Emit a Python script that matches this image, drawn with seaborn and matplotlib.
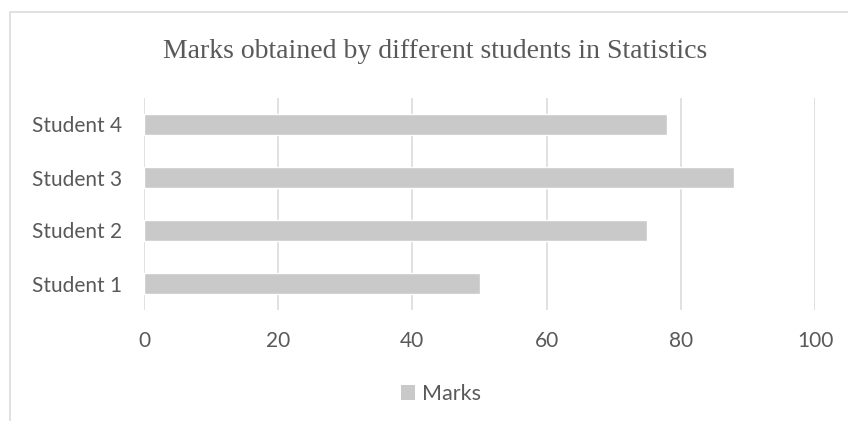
import matplotlib
matplotlib.use("Agg")
import matplotlib.pyplot as plt
import seaborn as sns
import pandas as pd
from matplotlib.patches import Rectangle, Patch

students = ["Student 1", "Student 2", "Student 3", "Student 4"]
marks = [50, 75, 88, 78]
x_ticks = [0, 20, 40, 60, 80, 100]
title = "Marks obtained by different students in Statistics"
series_name = "Marks"

df = pd.DataFrame({"Student": students, "Marks": marks})

sns.set_theme(style="white")
plt.rcParams["font.family"] = ["Lato", "DejaVu Sans"]

W, H = 848, 421
fig = plt.figure(figsize=(W / 100, H / 100), dpi=100)
left, right, top, bottom = 144, 815, 98, 310
ax = fig.add_axes([left / W, 1 - bottom / H, (right - left) / W, (bottom - top) / H])

bar_color = "#c9c9c9"
grid_color = "#d9d9d9"
text_color = "#595959"

sns.barplot(data=df, x="Marks", y="Student", order=students[::-1], orient="h",
            color=bar_color, saturation=1, width=0.39, ax=ax, errorbar=None)

ax.set_xlim(0, 100)
ax.set_ylim(3.5, -0.5)
ax.set_xticks(x_ticks)
ax.set_xticklabels([str(t) for t in x_ticks])
ax.set_xlabel("")
ax.set_ylabel("")
ax.set_axisbelow(True)
ax.xaxis.grid(True, color=grid_color, linewidth=1.1)
ax.yaxis.grid(False)
for s in ax.spines.values():
    s.set_visible(False)
ax.tick_params(axis="both", length=0, labelsize=15, colors=text_color)
ax.tick_params(axis="x", pad=15)
ax.tick_params(axis="y", pad=16)

fig.text(435 / W, 1 - 52 / H, title, ha="center", va="center",
         fontsize=20, color=text_color, family=["Liberation Serif"])

handle = Patch(facecolor=bar_color, edgecolor="none", label=series_name)
fig.legend(handles=[handle], loc="center", bbox_to_anchor=(441 / W, 1 - 394 / H),
           frameon=False, fontsize=15.5, labelcolor=text_color,
           handlelength=0.65, handleheight=0.65, handletextpad=0.3)

fig.add_artist(Rectangle((10 / W, -0.1), 1.2, 1 - 12 / H + 0.1,
                         transform=fig.transFigure, fill=False,
                         edgecolor=grid_color, linewidth=1.1))

fig.savefig("out.png", dpi=100, facecolor="white")
